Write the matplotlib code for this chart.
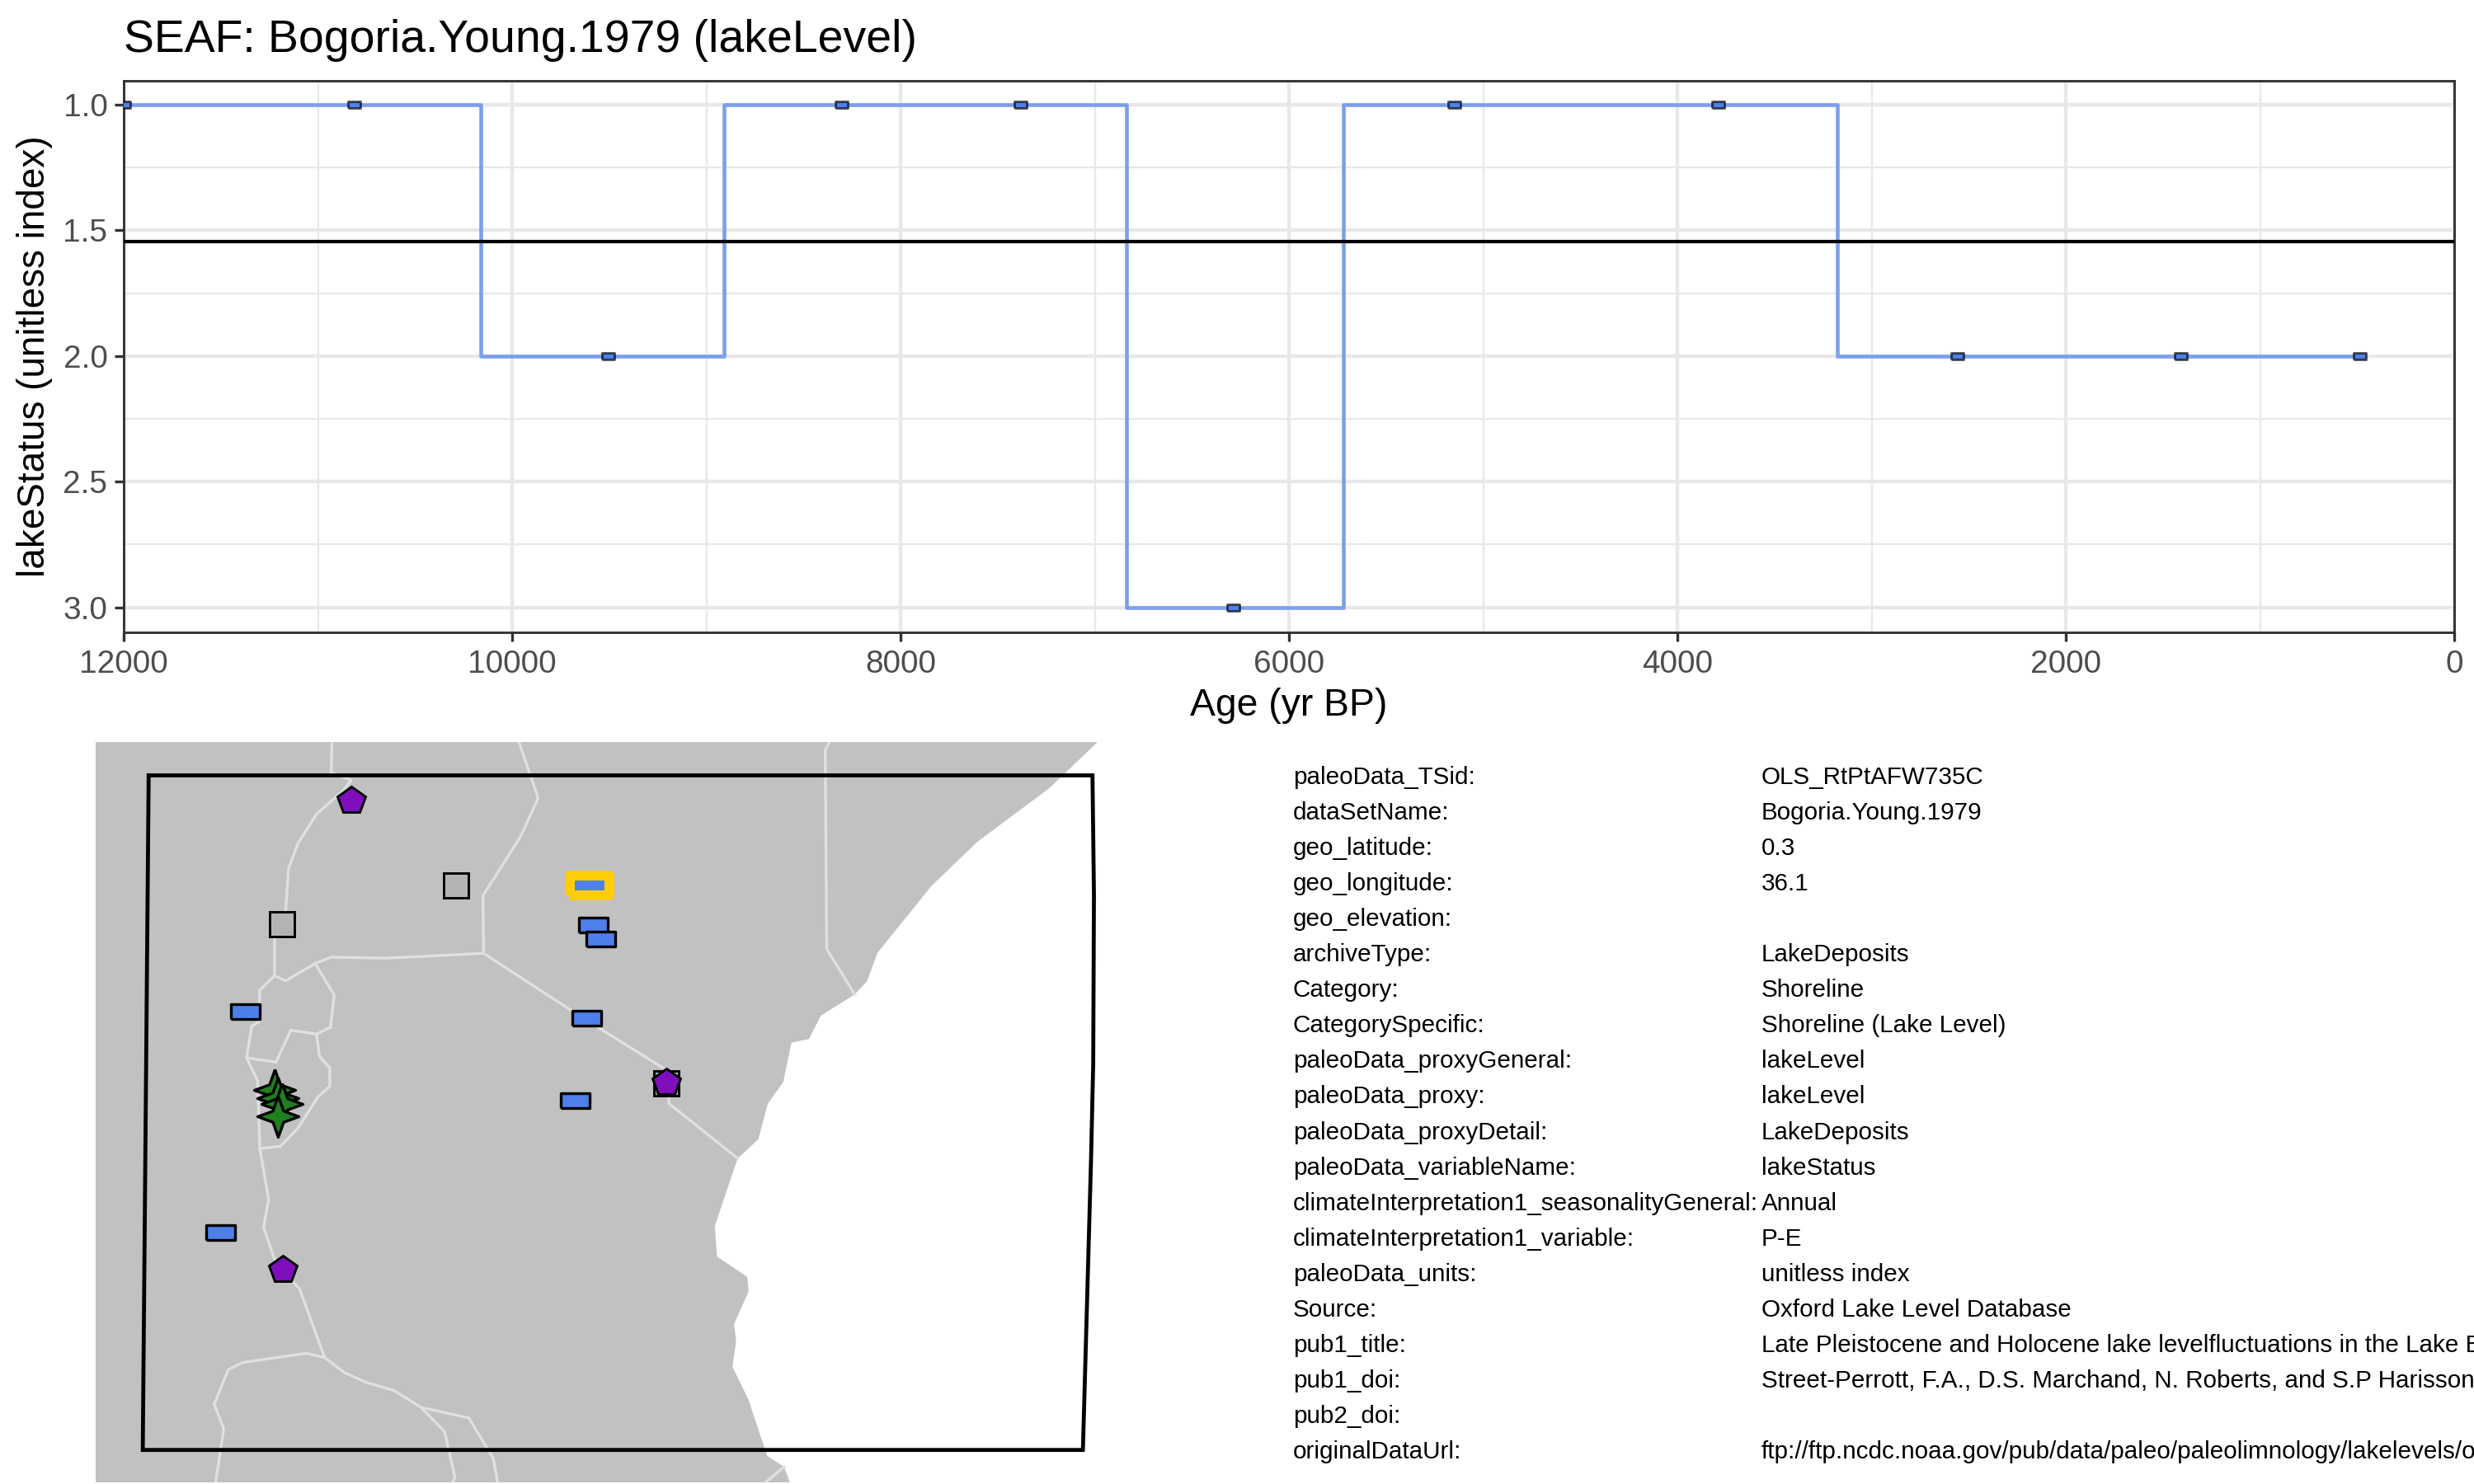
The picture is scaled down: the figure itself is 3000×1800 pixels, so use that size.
import numpy as np
import matplotlib
matplotlib.use('Agg')
from matplotlib import pyplot as plt

plt.rcParams['font.family'] = ['Liberation Sans', 'DejaVu Sans']

# time series
age = [12000, 10817, 9509, 8305, 7385, 6290, 5150, 3790, 2560, 1410, 488]
lake_status = [1, 1, 2, 1, 1, 3, 1, 1, 2, 2, 2]

# metadata table
meta_keys = ['paleoData_TSid:', 'dataSetName:', 'geo_latitude:', 'geo_longitude:', 'geo_elevation:',
             'archiveType:', 'Category:', 'CategorySpecific:', 'paleoData_proxyGeneral:', 'paleoData_proxy:',
             'paleoData_proxyDetail:', 'paleoData_variableName:', 'climateInterpretation1_seasonalityGeneral:',
             'climateInterpretation1_variable:', 'paleoData_units:', 'Source:', 'pub1_title:', 'pub1_doi:',
             'pub2_doi:', 'originalDataUrl:']
meta_values = ['OLS_RtPtAFW735C', 'Bogoria.Young.1979', '0.3', '36.1', '',
               'LakeDeposits', 'Shoreline', 'Shoreline (Lake Level)', 'lakeLevel', 'lakeLevel',
               'LakeDeposits', 'lakeStatus', 'Annual',
               'P-E', 'unitless index', 'Oxford Lake Level Database',
               'Late Pleistocene and Holocene lake levelfluctuations in the Lake B',
               'Street-Perrott, F.A., D.S. Marchand, N. Roberts, and S.P Harisson',
               '', 'ftp://ftp.ncdc.noaa.gov/pub/data/paleo/paleolimnology/lakelevels/o']

# map, all in plain map units
coast = [(1491, 34), (1425, 130), (1328, 240), (1265, 332), (1192, 470), (1178, 528), (1161, 556), (1115, 600),
         (1099, 648), (1075, 656), (1064, 737), (1043, 782), (1030, 856), (1002, 895), (971, 1035), (974, 1098),
         (1015, 1140), (1017, 1170), (997, 1238), (1000, 1272), (995, 1326), (1017, 1395), (1042, 1510),
         (1065, 1533), (1073, 1565), (130, 1565), (130, 34)]
borders = [
    [(451, 34), (450, 97), (477, 113), (466, 135), (430, 183), (405, 243), (392, 296), (388, 385), (373, 440),
     (373, 517), (353, 547), (352, 612), (342, 622), (335, 687), (350, 735), (353, 875), (365, 980), (358, 1037),
     (372, 1100), (385, 1130), (407, 1165), (441, 1307), (468, 1338), (497, 1358), (535, 1375), (572, 1410),
     (604, 1460), (618, 1555), (615, 1565)],
    [(572, 1410), (637, 1432), (670, 1515), (676, 1565)],
    [(441, 1307), (416, 1298), (330, 1317), (310, 1332), (291, 1404), (304, 1454), (293, 1565)],
    [(705, 34), (731, 150), (707, 230), (656, 352), (657, 471), (525, 481), (450, 479), (428, 492), (388, 528),
     (373, 517)],
    [(657, 471), (775, 588), (810, 622), (905, 712), (909, 782), (1002, 895)],
    [(1127, 34), (1121, 50), (1123, 462), (1161, 556)],
    [(428, 492), (454, 557), (449, 624), (430, 638), (395, 630), (375, 696), (335, 687)],
    [(430, 638), (434, 684), (448, 708), (448, 746), (432, 768), (405, 832), (381, 870), (353, 875)],
    [(1040, 1565), (1065, 1533)],
]
box = [(202, 103), (1484, 103), (1486, 350), (1485, 700), (1482, 900), (1471, 1498), (194, 1498), (202, 103)]

site_x, site_y = 801, 330
lake_x = [333, 806, 816, 797, 781, 299]
lake_y = [591, 412, 441, 605, 775, 1048]
grey_x = [619, 383, 905]
grey_y = [330, 411, 740]
purple_x = [477, 384, 905]
purple_y = [155, 1125, 738]
green_x = [373, 377, 383, 377]
green_y = [753, 770, 783, 808]

rect_marker = [(-1, -0.52), (1, -0.52), (1, 0.52), (-1, 0.52), (-1, -0.52)]
star_marker = [(0, 1), (0.26, 0.27), (1, 0), (0.26, -0.27), (0, -1), (-0.26, -0.27), (-1, 0), (-0.26, 0.27), (0, 1)]
blue = '#4F7FEA'

W, H = 3000, 1800
fig = plt.figure(figsize=(10, 6), dpi=300)


def px_axes(left, top, right, bottom):
    return fig.add_axes([left / W, 1 - bottom / H, (right - left) / W, (bottom - top) / H])


# top panel
ax = px_axes(150, 98, 2976, 767)
ax.set_axisbelow(True)
ax.grid(which='major', color='#E8E8E8', lw=1.05)
ax.grid(which='minor', color='#E8E8E8', lw=0.55)
ax.plot(age, lake_status, drawstyle='steps-mid', color='#7B9FEB', lw=1.1, zorder=3)
ax.axhline(np.mean(lake_status), color='black', lw=1.0, zorder=3)
ax.plot(age, lake_status, ls='none', marker=rect_marker, ms=3.6, mfc=blue, mec=(0, 0, 0, 0.65), mew=0.7, zorder=4)
ax.set_xlim(12000, 0)
ax.set_ylim(3.10, 0.905)
ax.set_xticks(np.arange(0, 12001, 2000))
ax.set_xticks(np.arange(1000, 12000, 2000), minor=True)
ax.set_yticks([1, 1.5, 2, 2.5, 3])
ax.set_yticks([1.25, 1.75, 2.25, 2.75], minor=True)
ax.set_yticklabels(['1.0', '1.5', '2.0', '2.5', '3.0'])
ax.tick_params(axis='x', pad=2.4)
ax.tick_params(axis='y', pad=2)
ax.tick_params(which='major', length=2.7, width=0.8, color='#333333', labelcolor='#4D4D4D', labelsize=9.3)
ax.tick_params(which='minor', length=0)
for s in ax.spines.values():
    s.set_color('#333333')
    s.set_linewidth(0.7)
fig.text(150 / W, 1 - 49 / H, 'SEAF: Bogoria.Young.1979 (lakeLevel)', fontsize=13.3, ha='left', va='center')
fig.text(1563 / W, 1 - 856 / H, 'Age (yr BP)', fontsize=11.1, ha='center', va='center')
fig.text(42 / W, 1 - 432 / H, 'lakeStatus (unitless index)', fontsize=11, rotation=90, ha='center', va='center')

# map
m = px_axes(116, 900, 1331, 1798)
m.set_xlim(130, 1491)
m.set_ylim(1565, 34)
m.axis('off')
m.fill(*zip(*coast), color='#C1C1C1', lw=0)
for b in borders:
    m.plot(*zip(*b), color='#E0E0E0', lw=0.8, solid_joinstyle='round')
m.plot(*zip(*box), color='black', lw=1.15, solid_joinstyle='miter')
m.plot(grey_x, grey_y, ls='none', marker='s', ms=7.4, mfc='#B3B3B3', mec='black', mew=0.7)
m.plot(site_x, site_y, ls='none', marker=rect_marker, ms=11.3, mfc=blue, mec='#FFCD07', mew=2.9)
m.plot(lake_x, lake_y, ls='none', marker=rect_marker, ms=8.4, mfc=blue, mec='black', mew=0.8)
m.plot(purple_x, purple_y, ls='none', marker='p', ms=8.4, mfc='#7F0FBD', mec='black', mew=0.7)
m.plot(green_x, green_y, ls='none', marker=star_marker, ms=12, mfc='#207F20', mec='black', mew=0.8)

# metadata text
for i, (k, v) in enumerate(zip(meta_keys, meta_values)):
    y = 1 - (943 + i * 43.05) / H
    fig.text(1568 / W, y, k, fontsize=7.12, ha='left', va='center')
    fig.text(2136 / W, y, v, fontsize=7.12, ha='left', va='center')

fig.savefig('out.png', dpi=300)
